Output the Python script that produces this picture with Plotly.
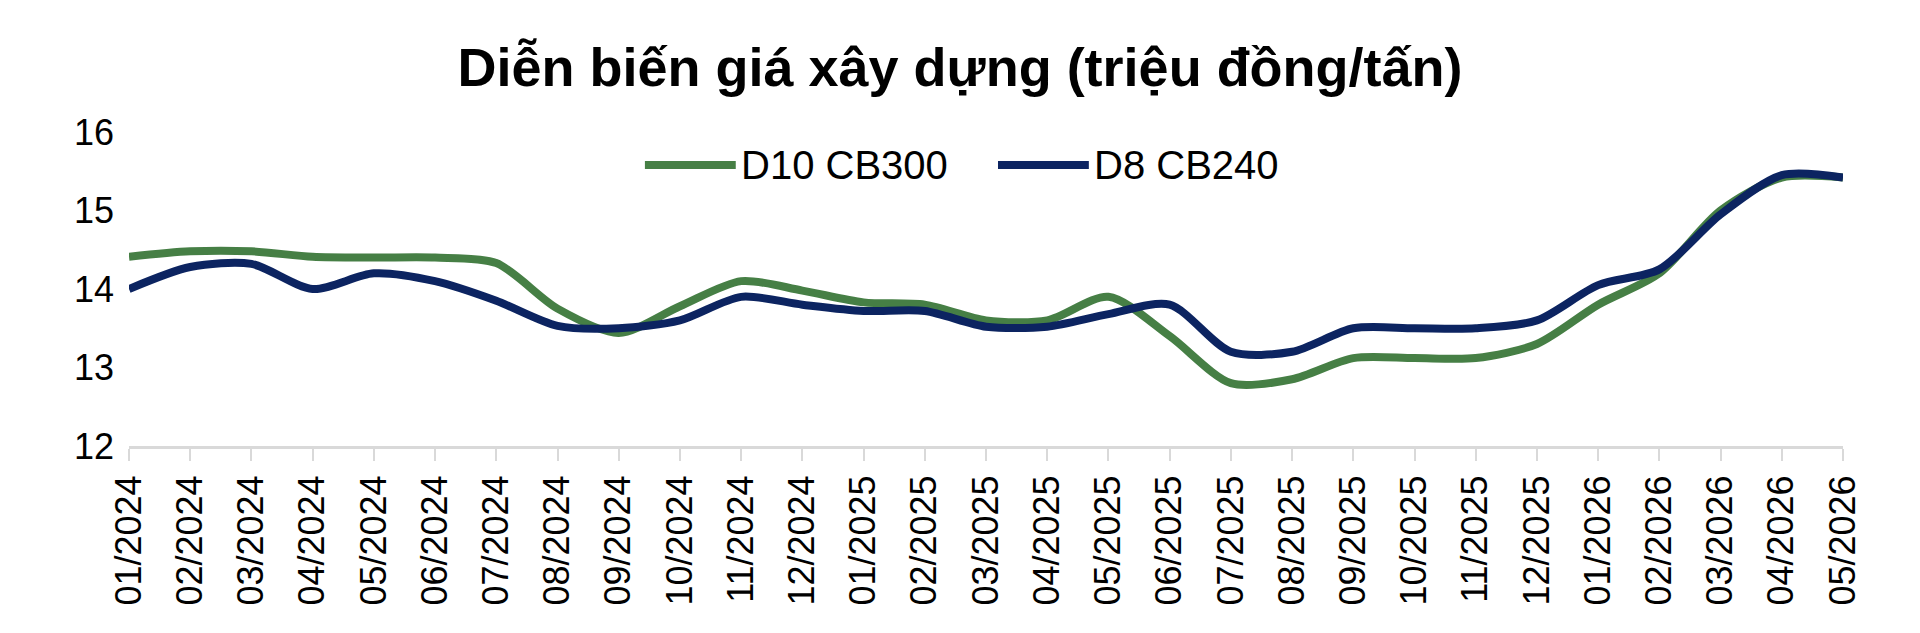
import plotly.graph_objects as go

months = ["01/2024", "02/2024", "03/2024", "04/2024", "05/2024", "06/2024", "07/2024",
          "08/2024", "09/2024", "10/2024", "11/2024", "12/2024", "01/2025", "02/2025",
          "03/2025", "04/2025", "05/2025", "06/2025", "07/2025", "08/2025", "09/2025",
          "10/2025", "11/2025", "12/2025", "01/2026", "02/2026", "03/2026", "04/2026",
          "05/2026"]

d10_cb300 = [14.41, 14.48, 14.48, 14.41, 14.40, 14.40, 14.33, 13.75, 13.44, 13.78,
             14.10, 13.98, 13.83, 13.80, 13.60, 13.60, 13.90, 13.40, 12.80, 12.85,
             13.12, 13.12, 13.12, 13.30, 13.80, 14.20, 15.00, 15.42, 15.42]

d8_cb240 = [14.00, 14.28, 14.32, 14.00, 14.20, 14.10, 13.85, 13.53, 13.50, 13.60,
            13.90, 13.80, 13.72, 13.72, 13.52, 13.52, 13.68, 13.80, 13.20, 13.20,
            13.50, 13.50, 13.50, 13.60, 14.05, 14.25, 14.95, 15.45, 15.42]

series_names = ["D10 CB300", "D8 CB240"]
y_ticks = [12, 13, 14, 15, 16]

FONT = "Liberation Sans, Arial, sans-serif"
GREEN = "#467F45"
NAVY = "#0C2461"
colors = [GREEN, NAVY]

fig = go.Figure()
for name, vals, col in zip(series_names, [d10_cb300, d8_cb240], colors):
    fig.add_trace(go.Scatter(x=months, y=vals, name=name, mode="lines", showlegend=False,
                             line=dict(color=col, width=8, shape="spline", smoothing=0.8)))

# custom legend (long line samples like the original)
legend_x0 = [0.301, 0.507]
legend_len = 0.053
legend_y = 0.895
for name, col, x0 in zip(series_names, colors, legend_x0):
    fig.add_shape(type="line", xref="paper", yref="paper", x0=x0, x1=x0 + legend_len,
                  y0=legend_y, y1=legend_y, line=dict(color=col, width=8))
    fig.add_annotation(xref="paper", yref="paper", x=x0 + legend_len + 0.002, y=legend_y,
                       xanchor="left", yanchor="middle", text=name, showarrow=False,
                       font=dict(family=FONT, size=40, color="black"))

fig.update_layout(
    width=1920, height=633,
    paper_bgcolor="white", plot_bgcolor="white",
    margin=dict(l=129, r=77, t=132, b=187),
    font=dict(family=FONT, color="black", size=36),
    title=dict(text="<b>Diễn biến giá xây dựng (triệu đồng/tấn)</b>",
               x=0.5, xanchor="center", y=0.894, yanchor="middle",
               font=dict(family=FONT, size=54, color="black")),
    showlegend=False,
)

fig.update_xaxes(type="category", range=[0, len(months) - 1], tickangle=-90,
                 showline=True, linecolor="#D9D9D9", linewidth=3,
                 ticks="outside", ticklen=12, tickcolor="#D9D9D9", tickwidth=2,
                 showgrid=False, zeroline=False, tickfont=dict(size=36, color="black"))
fig.update_yaxes(range=[12, 16], tickvals=y_ticks, showgrid=False, zeroline=False,
                 showline=False, ticks="", ticklabelstandoff=14,
                 tickfont=dict(size=36, color="black"))

fig.write_html("out.html")
